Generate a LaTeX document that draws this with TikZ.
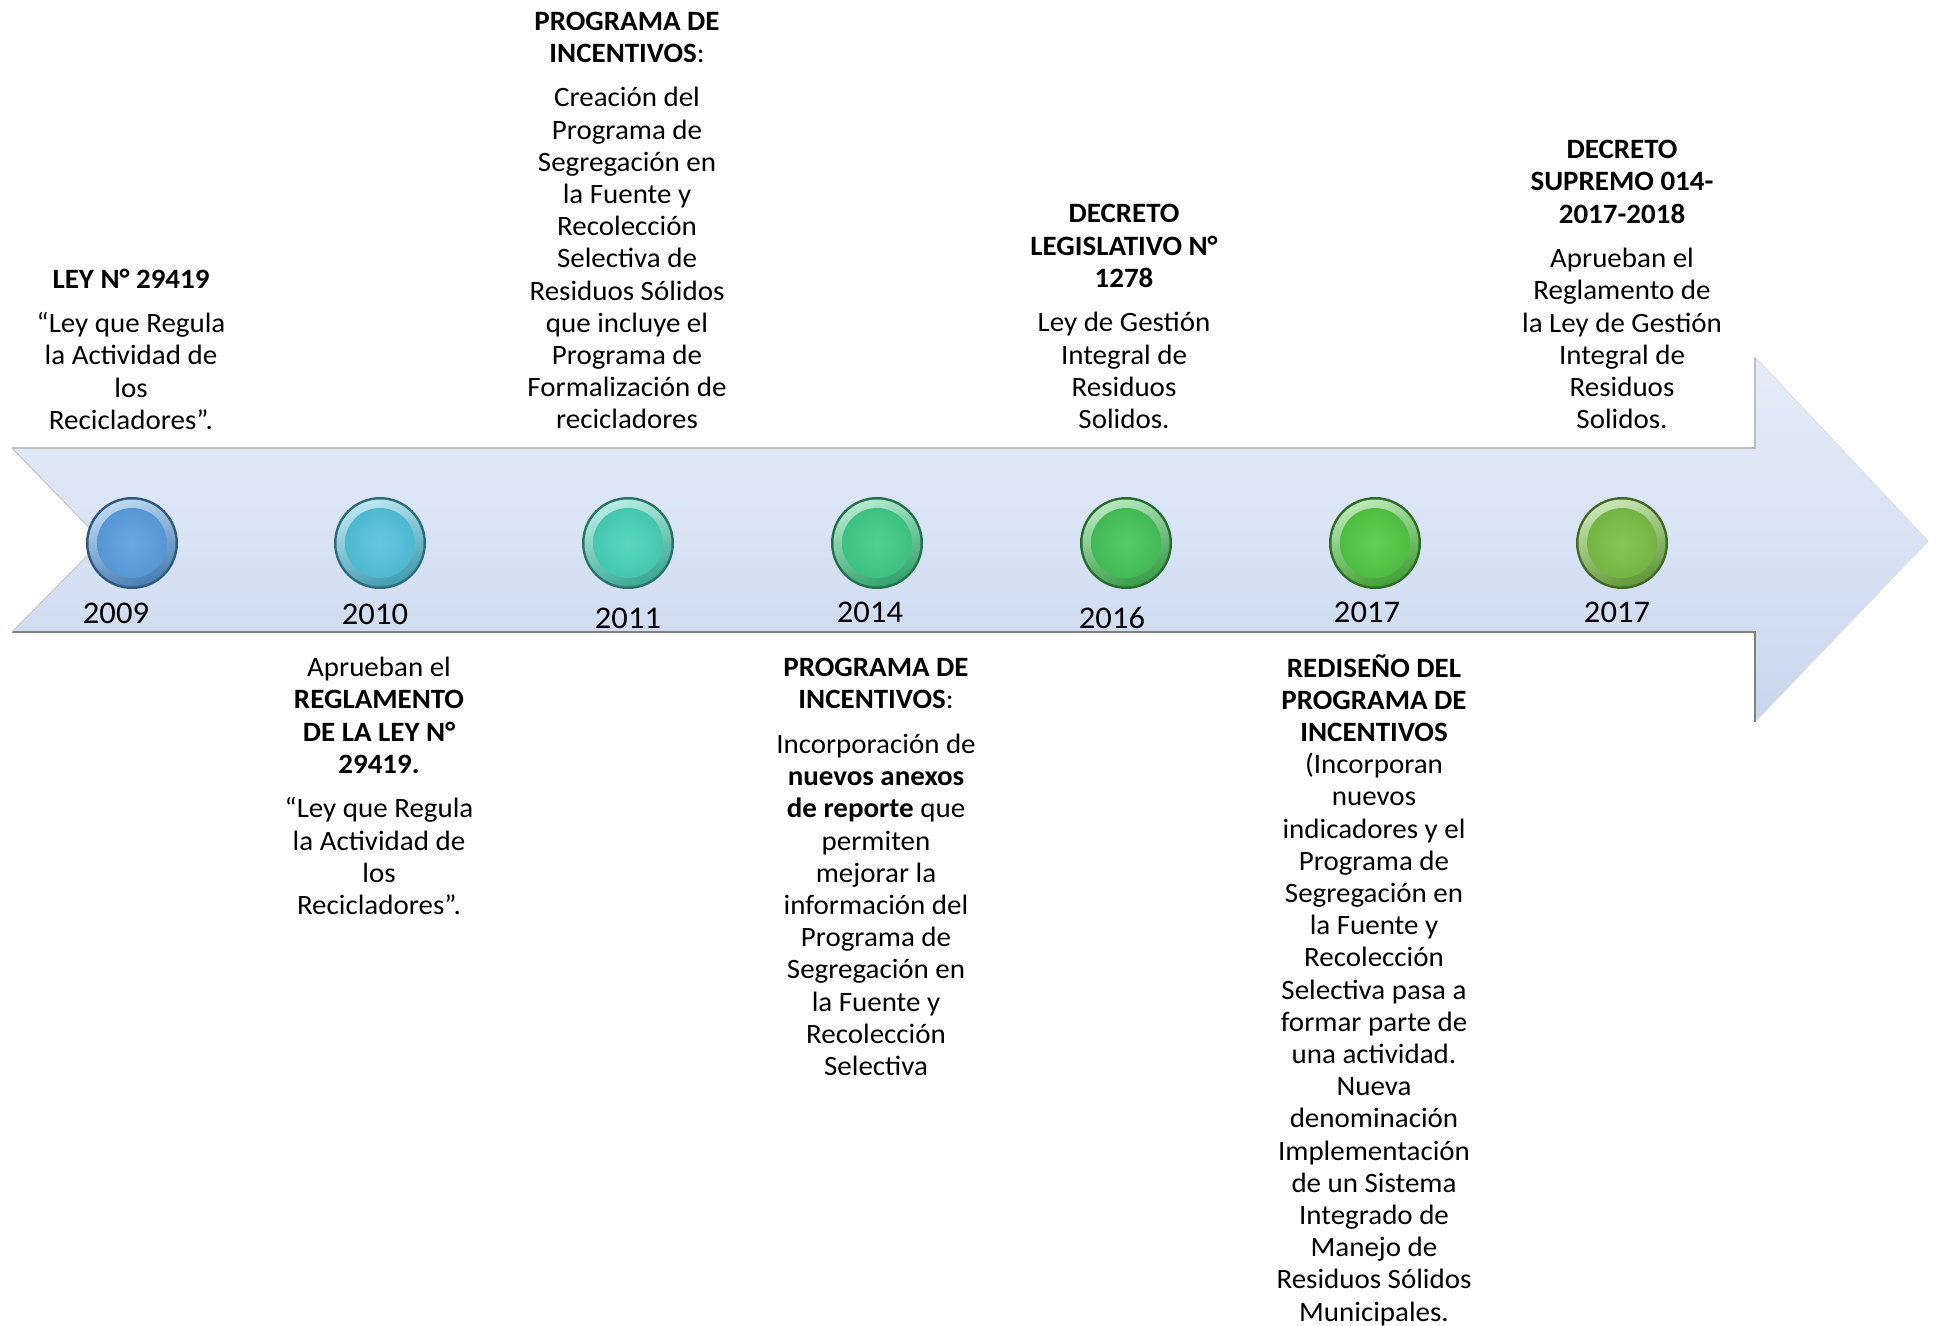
\documentclass[tikz,border=0pt]{standalone}
\usepackage{fontspec}
\setmainfont{Carlito}[FakeStretch=1.035]
\definecolor{cA}{HTML}{5A9EDF}
\definecolor{cB}{HTML}{52C2DC}
\definecolor{cC}{HTML}{48D2B8}
\definecolor{cD}{HTML}{3FCB86}
\definecolor{cE}{HTML}{46C35A}
\definecolor{cF}{HTML}{52C744}
\definecolor{cG}{HTML}{7ABE46}
\definecolor{arTop}{HTML}{E4ECF8}
\definecolor{arMid}{HTML}{D8E3F4}
\definecolor{arBot}{HTML}{C8D6EE}
\tikzset{
  txt/.style={anchor=north, inner sep=0pt, align=center, font=\fontsize{28}{32.2}\selectfont},
  yr/.style={anchor=base, inner sep=0pt, font=\fontsize{31.5}{36}\selectfont},
  dot/.style={circle, minimum size=92pt, inner sep=0pt},
}
\newcommand\mybtn[3]{%
  \node[dot, fill=#3!55!black] (#1) at (#2,543) {};
  \shade[top color=#3!40!white, bottom color=#3!80!black, shading angle=20] (#1.center) circle (43.5pt);
  \shade[inner color=#3!90!white, outer color=#3!95!black] (#1.center) circle (35pt);
}
\begin{document}
\begin{tikzpicture}[x=1pt,y=-1pt]
\useasboundingbox[fill=white] (0,0) rectangle (1937,1325);
% arrow
\shade[top color=arTop, bottom color=arBot, middle color=arMid]
  (12,448) -- (1755,448) -- (1755,357) -- (1928,541) -- (1755,722) -- (1755,632) -- (12,632) -- (102,541) -- cycle;
\draw[black!25, line width=1.2pt] (12,448) -- (1755,448) -- (1755,357);
\draw[black!12, line width=1pt] (1755,357) -- (1928,541) -- (1755,722);
\draw[black!50, line width=1.6pt] (12,632) -- (1755,632) -- (1755,722);
\draw[black!22, line width=1pt] (12,448) -- (102,541) -- (12,632);
% buttons
\mybtn{c1}{132}{cA}
\mybtn{c2}{380}{cB}
\mybtn{c3}{628}{cC}
\mybtn{c4}{877}{cD}
\mybtn{c5}{1126}{cE}
\mybtn{c6}{1375}{cF}
\mybtn{c7}{1622}{cG}
% years
\node[yr] (y1) at (116,623) {2009};
\node[yr] (y2) at (375,624) {2010};
\node[yr] (y3) at (628,628) {2011};
\node[yr] (y4) at (870,622) {2014};
\node[yr] (y5) at (1112,628) {2016};
\node[yr] (y6) at (1367,622) {2017};
\node[yr] (y7) at (1617,622) {2017};
% texts above
\node[txt] (t1) at (131,265.5) {\strut\textbf{LEY N° 29419}\\[12.3pt]“Ley que Regula\\la Actividad de\\los\\Recicladores”.};
\node[txt] (t3) at (627,7.5) {\strut\textbf{PROGRAMA DE}\\\textbf{INCENTIVOS}:\\[12.3pt]Creación del\\Programa de\\Segregación en\\la Fuente y\\Recolección\\Selectiva de\\Residuos Sólidos\\que incluye el\\Programa de\\Formalización de\\recicladores};
\node[txt] (t5) at (1124,200.2) {\strut\textbf{DECRETO}\\\textbf{LEGISLATIVO N°}\\\textbf{1278}\\[12.3pt]Ley de Gestión\\Integral de\\Residuos\\Solidos.};
\node[txt] (t7) at (1622,136) {\strut\textbf{DECRETO}\\\textbf{SUPREMO 014-}\\\textbf{2017-2018}\\[12.3pt]Aprueban el\\Reglamento de\\la Ley de Gestión\\Integral de\\Residuos\\Solidos.};
% texts below
\node[txt] (t2) at (379,654) {\strut Aprueban el\\\textbf{REGLAMENTO}\\\textbf{DE LA LEY N°}\\\textbf{29419.}\\[12.3pt]“Ley que Regula\\la Actividad de\\los\\Recicladores”.};
\node[txt] (t4) at (876,654) {\strut\textbf{PROGRAMA DE}\\\textbf{INCENTIVOS}:\\[12.3pt]Incorporación de\\\textbf{nuevos anexos}\\\textbf{de reporte} que\\permiten\\mejorar la\\información del\\Programa de\\Segregación en\\la Fuente y\\Recolección\\Selectiva};
\node[txt] (t6) at (1374,654) {\strut\textbf{REDISEÑO DEL}\\\textbf{PROGRAMA DE}\\\textbf{INCENTIVOS}\\(Incorporan\\nuevos\\indicadores y el\\Programa de\\Segregación en\\la Fuente y\\Recolección\\Selectiva pasa a\\formar parte de\\una actividad.\\Nueva\\denominación\\Implementación\\de un Sistema\\Integrado de\\Manejo de\\Residuos Sólidos\\Municipales.};
\end{tikzpicture}
\end{document}
